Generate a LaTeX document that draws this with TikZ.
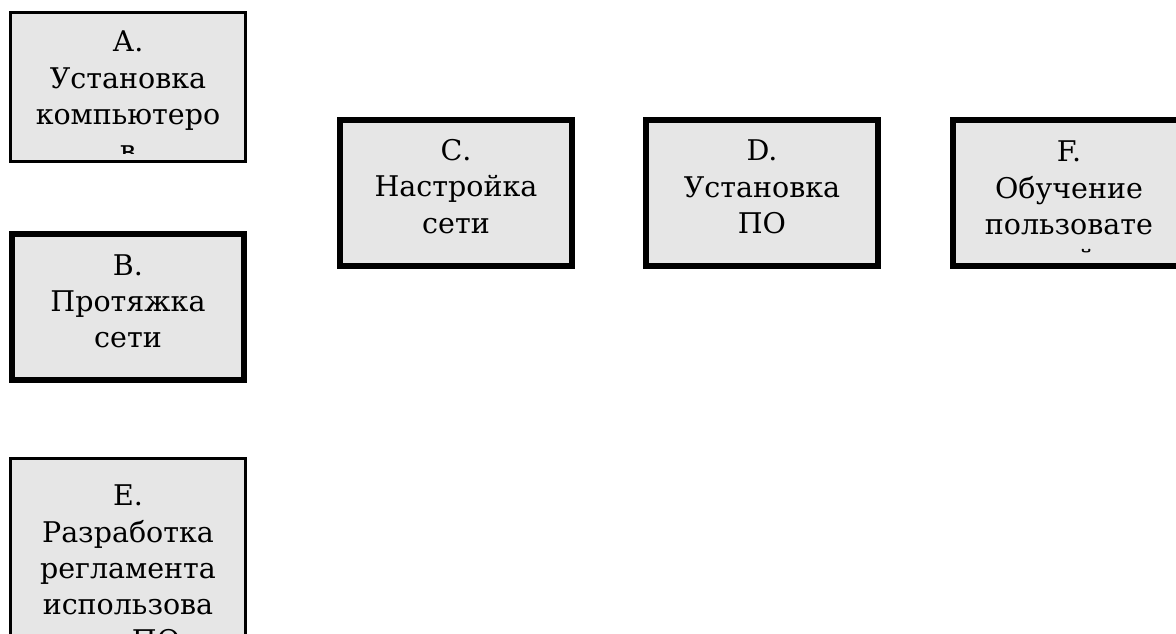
\documentclass[tikz,border=0pt]{standalone}
\usepackage{fontspec}
\setmainfont{DejaVu Serif}
\definecolor{boxfill}{RGB}{230,230,230}
\tikzset{
  % #1 = border width, #2 = outer height
  taskbox/.style 2 args={draw=black, fill=boxfill, line width=#1,
    inner sep=0pt, outer sep=0pt,
    minimum width=238pt-#1, minimum height=#2-#1},
  boxtext/.style={anchor=north, align=center, inner sep=0pt, outer sep=0pt,
    font=\fontsize{28.5}{36.3}\selectfont, text=black},
}
\begin{document}
\begin{tikzpicture}[x=1pt, y=-1pt]
\useasboundingbox (0,0) rectangle (1176,634);

% task boxes
\node[taskbox={2.6pt}{152pt}] (A) at (128,87) {};
\node[taskbox={5.8pt}{152pt}] (B) at (128,307) {};
\node[taskbox={3.2pt}{250pt}] (E) at (128,582) {};
\node[taskbox={5.8pt}{152pt}] (C) at (456,193) {};
\node[taskbox={5.8pt}{152pt}] (D) at (762,193) {};
\node[taskbox={5.8pt}{152pt}] (F) at (1069,193) {};

% labels, cut off where they overflow the box
\begin{scope}
  \clip (A.north west) rectangle ([yshift=8.3pt]A.south east);
  \node[boxtext] (At) at (128,26.3) {\strut А.\\Установка\\компьютеро\\в};
\end{scope}
\begin{scope}
  \clip (B.north west) rectangle ([yshift=9.9pt]B.south east);
  \node[boxtext] (Bt) at (128,249.6) {\strut В.\\Протяжка\\сети};
\end{scope}
\begin{scope}
  \clip (E.north west) rectangle (E.south east);
  \node[boxtext] (Et) at (128,480.3) {\strut Е.\\Разработка\\регламента\\использова\\нияПО};
\end{scope}
\begin{scope}
  \clip (C.north west) rectangle ([yshift=9.9pt]C.south east);
  \node[boxtext] (Ct) at (456,135.1) {\strut С.\\Настройка\\сети};
\end{scope}
\begin{scope}
  \clip (D.north west) rectangle ([yshift=9.9pt]D.south east);
  \node[boxtext] (Dt) at (762,135.3) {\strut D.\\Установка\\ПО};
\end{scope}
\begin{scope}
  \clip (F.north west) rectangle ([yshift=12.5pt]F.south east);
  \node[boxtext] (Ft) at (1069,136.3) {\strut F.\\Обучение\\пользовате\\лей};
\end{scope}
\end{tikzpicture}
\end{document}
